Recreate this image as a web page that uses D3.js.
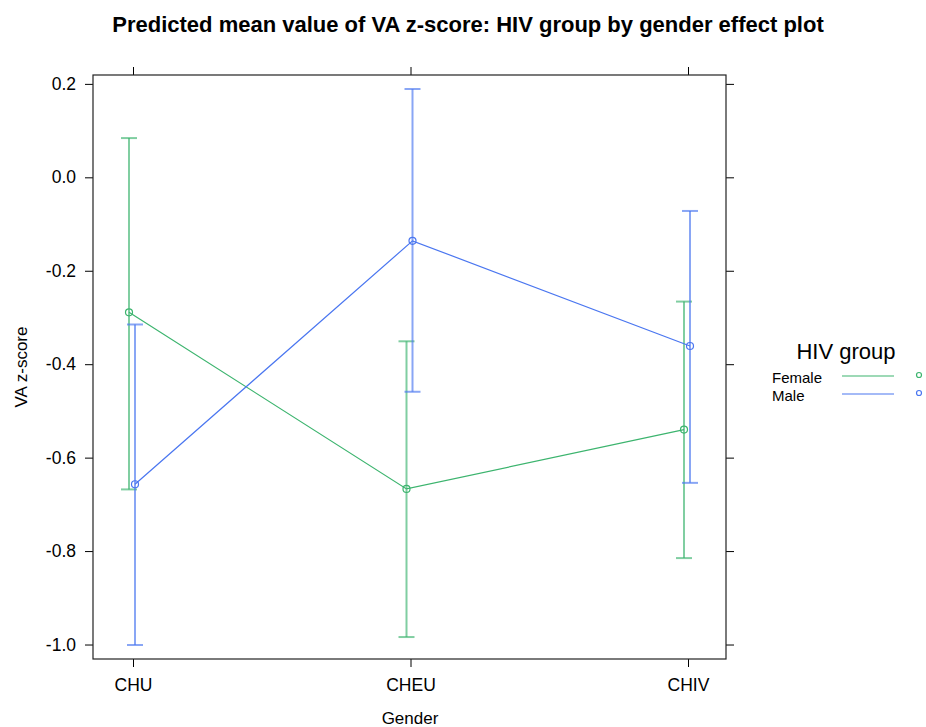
<!DOCTYPE html>
<html>
<head>
<meta charset="utf-8">
<script src="https://cdn.jsdelivr.net/npm/d3@7"></script>
<style>
  body { margin: 0; background: #fff; }
  text { font-family: "Liberation Sans", Arial, sans-serif; fill: #000; }
</style>
</head>
<body>
<div id="chart"></div>
<script>
const categories = ['CHU', 'CHEU', 'CHIV'];
const groups = ['Female', 'Male'];
const femaleFit = [-0.289, -0.667, -0.540];
const femaleLower = [-0.668, -0.984, -0.815];
const femaleUpper = [0.084, -0.351, -0.266];
const maleFit = [-0.657, -0.136, -0.361];
const maleLower = [-1.001, -0.459, -0.654];
const maleUpper = [-0.315, 0.189, -0.072];
const yTicks = [-1.0, -0.8, -0.6, -0.4, -0.2, 0.0, 0.2];

const colors = { Female: '#3cb46e', Male: '#4a76f0' };
const dodge = { Female: -4, Male: 2 };

const series = [
    { name: 'Female', fit: femaleFit, lower: femaleLower, upper: femaleUpper },
    { name: 'Male', fit: maleFit, lower: maleLower, upper: maleUpper }
];

const W = 926, H = 727;
const panel = { left: 93, right: 726, top: 75, bottom: 659 };

const svg = d3.select('#chart').append('svg')
    .attr('width', W)
    .attr('height', H);

const x = d3.scalePoint()
    .domain(categories)
    .range([133, 688]);

const y = d3.scaleLinear()
    .domain([-1.031, 0.219])
    .range([panel.bottom, panel.top]);

// Title
svg.append('text')
    .attr('x', 468)
    .attr('y', 32)
    .attr('text-anchor', 'middle')
    .style('font-size', '22px')
    .style('font-weight', 'bold')
    .text('Predicted mean value of VA z-score: HIV group by gender effect plot');

// Axes (ticks outward on all four sides)
svg.append('g')
    .attr('transform', `translate(${panel.left},0)`)
    .call(d3.axisLeft(y).tickValues(yTicks).tickSizeOuter(0).tickSize(8).tickPadding(9))
    .call(g => g.select('.domain').remove())
    .call(g => g.selectAll('text').style('font-size', '17.5px').text(d => d3.format('.1f')(d).replace('−', '-')));

svg.append('g')
    .attr('transform', `translate(${panel.right},0)`)
    .call(d3.axisRight(y).tickValues(yTicks).tickSizeOuter(0).tickSize(8).tickFormat(''))
    .call(g => g.select('.domain').remove());

svg.append('g')
    .attr('transform', `translate(0,${panel.bottom})`)
    .call(d3.axisBottom(x).tickSizeOuter(0).tickSize(8).tickPadding(12))
    .call(g => g.select('.domain').remove())
    .call(g => g.selectAll('text').style('font-size', '17.5px'));

svg.append('g')
    .attr('transform', `translate(0,${panel.top})`)
    .call(d3.axisTop(x).tickSizeOuter(0).tickSize(8).tickFormat(''))
    .call(g => g.select('.domain').remove());

svg.selectAll('.tick line').attr('stroke', '#000');

svg.append('rect')
    .attr('x', panel.left)
    .attr('y', panel.top)
    .attr('width', panel.right - panel.left)
    .attr('height', panel.bottom - panel.top)
    .attr('fill', 'none')
    .attr('stroke', '#222')
    .attr('stroke-width', 1.2);

// Axis labels
svg.append('text')
    .attr('x', 410)
    .attr('y', 724)
    .attr('text-anchor', 'middle')
    .style('font-size', '17px')
    .text('Gender');

svg.append('text')
    .attr('transform', 'rotate(-90)')
    .attr('x', -367)
    .attr('y', 27)
    .attr('text-anchor', 'middle')
    .style('font-size', '17px')
    .text('VA z-score');

// Error bars, lines, points
const plot = svg.append('g');

series.forEach(s => {
    const col = colors[s.name];
    const px = i => x(categories[i]) + dodge[s.name];
    const eb = plot.append('g').attr('stroke', col).attr('stroke-opacity', 0.65).attr('stroke-width', 2);
    categories.forEach((c, i) => {
        eb.append('line').attr('x1', px(i)).attr('x2', px(i)).attr('y1', y(s.lower[i])).attr('y2', y(s.upper[i]));
        eb.append('line').attr('x1', px(i) - 8).attr('x2', px(i) + 8).attr('y1', y(s.lower[i])).attr('y2', y(s.lower[i]));
        eb.append('line').attr('x1', px(i) - 8).attr('x2', px(i) + 8).attr('y1', y(s.upper[i])).attr('y2', y(s.upper[i]));
    });

    const line = d3.line().x((d, i) => px(i)).y(d => y(d));
    plot.append('path')
        .datum(s.fit)
        .attr('d', line)
        .attr('fill', 'none')
        .attr('stroke', col)
        .attr('stroke-width', 1.2);

    plot.selectAll(null)
        .data(s.fit)
        .enter()
        .append('circle')
        .attr('cx', (d, i) => px(i))
        .attr('cy', d => y(d))
        .attr('r', 3.5)
        .attr('fill', 'none')
        .attr('stroke', col)
        .attr('stroke-width', 1.2);
});

// Legend
const legend = svg.append('g');
legend.append('text')
    .attr('x', 846)
    .attr('y', 359)
    .attr('text-anchor', 'middle')
    .style('font-size', '22px')
    .text('HIV group');

groups.forEach((gname, i) => {
    const ly = 376 + i * 18;
    legend.append('text')
        .attr('x', 772)
        .attr('y', ly + 7)
        .style('font-size', '15px')
        .text(gname);
    legend.append('line')
        .attr('x1', 842).attr('x2', 894)
        .attr('y1', ly).attr('y2', ly)
        .attr('stroke', colors[gname])
        .attr('stroke-width', 1.2);
    legend.append('circle')
        .attr('cx', 919).attr('cy', ly - 1)
        .attr('r', 2.5)
        .attr('fill', 'none')
        .attr('stroke', colors[gname])
        .attr('stroke-width', 1.2);
});
</script>
</body>
</html>
